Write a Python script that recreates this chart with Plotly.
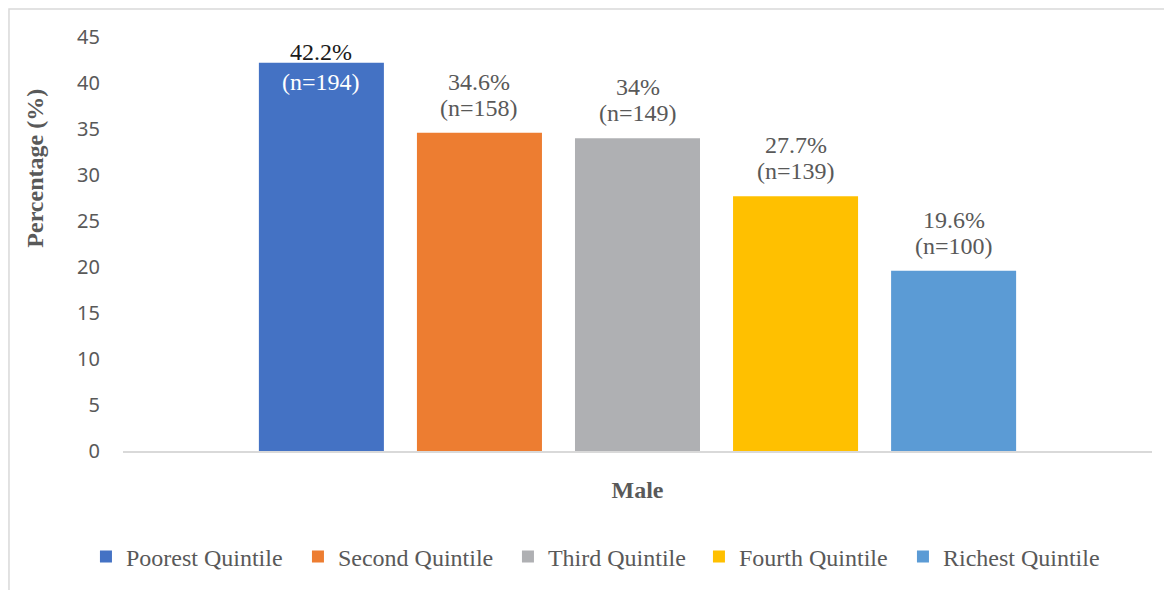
import plotly.graph_objects as go

categories = ["Male"]
series_names = ["Poorest Quintile", "Second Quintile", "Third Quintile", "Fourth Quintile", "Richest Quintile"]
values = [42.2, 34.6, 34.0, 27.7, 19.6]
pct_labels = ["42.2%", "34.6%", "34%", "27.7%", "19.6%"]
n_labels = ["(n=194)", "(n=158)", "(n=149)", "(n=139)", "(n=100)"]
colors = ["#4472C4", "#ED7D31", "#AFB0B3", "#FFC000", "#5B9BD5"]
y_ticks = [0, 5, 10, 15, 20, 25, 30, 35, 40, 45]

# legend entry widths (layout only)
legend_widths = [167, 165, 146, 159, 160]

SERIF = "Liberation Serif, Times New Roman, serif"
SANS = "Noto Sans, Liberation Sans, Arial, sans-serif"
GRAY = "#595959"

fig = go.Figure()
for name, v, c, lw in zip(series_names, values, colors, legend_widths):
    fig.add_trace(go.Bar(
        name=name, x=categories, y=[v], marker_color=c, marker_line_width=0,
        hoverinfo="skip", legendwidth=lw,
    ))

n_series = len(series_names)
bargap = 0.232
for i, (v, p, n) in enumerate(zip(values, pct_labels, n_labels)):
    slot = (1 - bargap) / n_series
    xoff = -(1 - bargap) / 2 + slot * (i + 0.5)
    if i == 0:
        p_shift, n_shift, p_col, n_col = 11, -19, "#1a1a1a", "white"
    else:
        p_shift, n_shift, p_col, n_col = 51, 25, GRAY, GRAY
    fig.add_annotation(x=xoff, y=v, xref="x", yref="y", text=p, showarrow=False,
                       yanchor="middle", yshift=p_shift,
                       font=dict(family=SERIF, size=24, color=p_col))
    fig.add_annotation(x=xoff, y=v, xref="x", yref="y", text=n, showarrow=False,
                       yanchor="middle", yshift=n_shift,
                       font=dict(family=SERIF, size=24, color=n_col))

# y-axis title placed as in the reference (above centre)
fig.add_annotation(x=-0.0855, y=0.682, xref="paper", yref="paper",
                   text="<b>Percentage (%)</b>", textangle=-90, showarrow=False,
                   xanchor="center", yanchor="middle",
                   font=dict(family=SERIF, size=24, color=GRAY))

fig.update_layout(
    width=1164, height=582,
    margin=dict(l=115, r=20, t=29, b=138),
    paper_bgcolor="white", plot_bgcolor="white",
    barmode="group", bargap=bargap, bargroupgap=0.209,
    showlegend=True,
    legend=dict(orientation="h", x=-0.036, xanchor="left", y=-0.253, yanchor="middle",
                font=dict(family=SERIF, size=24, color=GRAY),
                itemsizing="constant", itemwidth=30, tracegroupgap=0),
    shapes=[dict(type="rect", xref="paper", yref="paper",
                 x0=-0.1108, x1=1.5, y0=-1.0, y1=1.0675,
                 line=dict(color="#d9d9d9", width=1.5), fillcolor="rgba(0,0,0,0)", layer="below")],
)
fig.update_xaxes(
    type="category", showgrid=False, zeroline=False,
    showline=True, linecolor="#d9d9d9", linewidth=1.5,
    ticks="outside", ticklen=16, tickcolor="rgba(0,0,0,0)",
    tickfont=dict(family=SERIF, size=24, color=GRAY),
    ticktext=["<b>Male</b>"], tickvals=categories,
)
fig.update_yaxes(
    range=[0, 45], tickvals=y_ticks, showgrid=False, zeroline=False, showline=False,
    tickfont=dict(family=SANS, size=20, color=GRAY), ticks="", ticklabelstandoff=22,
)

fig.write_html("out.html")
